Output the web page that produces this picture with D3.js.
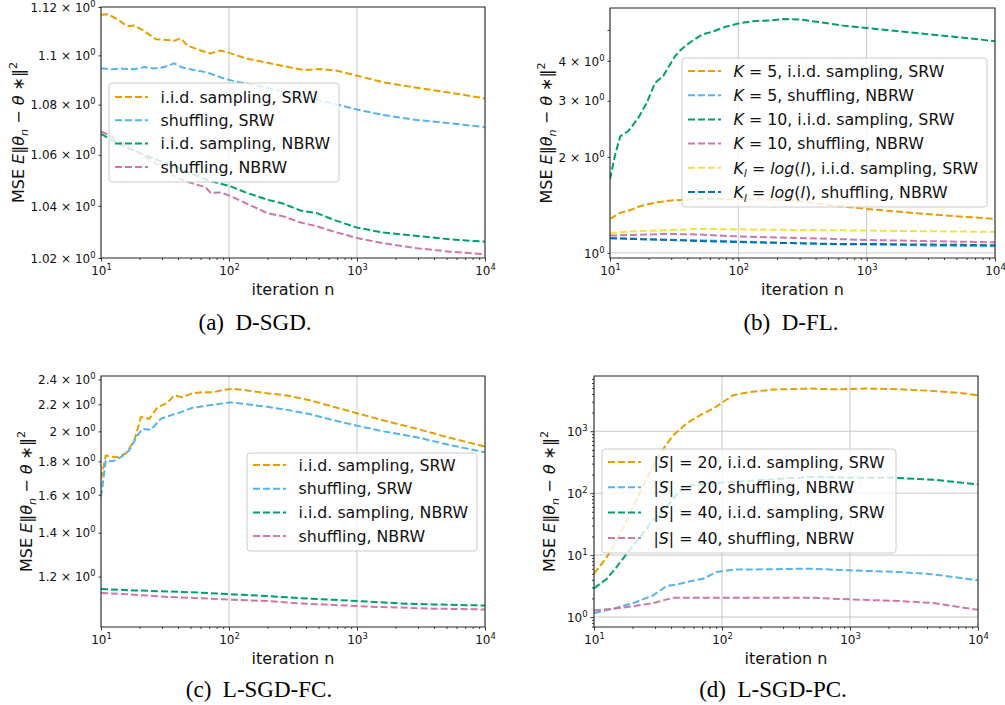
<!DOCTYPE html>
<html><head><meta charset="utf-8">
<script src="https://cdn.jsdelivr.net/npm/d3@7"></script>
<style>body{margin:0;background:#fff} svg text{font-family:"DejaVu Sans",sans-serif;fill:#111}</style>
</head><body><svg id="c" width="1005" height="705"></svg>
<script>
// ---------------- DATA ----------------
const xMajorTicks = [10, 100, 1000, 10000];
const xTickLabels = ["10^1^", "10^2^", "10^3^", "10^4^"];

// Panel (a) D-SGD
const aLabels = ["i.i.d. sampling, SRW", "shuffling, SRW", "i.i.d. sampling, NBRW", "shuffling, NBRW"];
const aN_iidSRW = [10,11.3,13.5,16.1,18.2,21.8,26.8,33,37.3,42,47.3,60,72,86,103,139,199,285,384,518,698,1000,1614,2937,5337,10000];
const aY_iidSRW = [1.1168,1.117,1.1148,1.112,1.1123,1.110,1.1066,1.1063,1.106,1.107,1.104,1.102,1.1008,1.102,1.1008,1.0986,1.097,1.0953,1.094,1.0944,1.0937,1.0917,1.089,1.0868,1.0848,1.0825];
const aN_shufSRW = [10,12,14.3,18.2,21.8,26,31.2,37.3,43.3,53.3,67.8,86,109,148,199,268,362,488,658,1000,1614,2937,5337,10000];
const aY_shufSRW = [1.0947,1.0943,1.0946,1.0943,1.0952,1.0946,1.0952,1.0967,1.095,1.094,1.093,1.091,1.0895,1.0882,1.0868,1.0852,1.0834,1.082,1.0804,1.078,1.0758,1.0738,1.0725,1.071];
const aN_iidNBRW = [10,12,16.1,21.8,29.3,39.5,53.3,72,103,139,199,268,362,488,658,1000,1614,2937,5337,10000];
const aY_iidNBRW = [1.0683,1.066,1.0627,1.06,1.0574,1.055,1.0522,1.0496,1.0476,1.045,1.0424,1.0408,1.0382,1.0372,1.0346,1.0316,1.0297,1.0284,1.0271,1.0262];
const aN_shufNBRW = [10,12,16.1,21.8,29.3,39.5,53.3,65.8,72,86,103,139,199,268,362,488,658,1000,1614,2937,5337,10000];
const aY_shufNBRW = [1.0693,1.0673,1.0634,1.0594,1.0554,1.0508,1.0486,1.0472,1.045,1.0452,1.0438,1.0408,1.0372,1.0359,1.0336,1.0321,1.0301,1.0276,1.0256,1.0237,1.0224,1.0214];
const aYTickValues = [1.02, 1.04, 1.06, 1.08, 1.1, 1.12];
const aYTickLabels = ["1.02 × 10^0^", "1.04 × 10^0^", "1.06 × 10^0^", "1.08 × 10^0^", "1.1 × 10^0^", "1.12 × 10^0^"];

// Panel (b) D-FL
const bLabels = ["_K_ = 5, i.i.d. sampling, SRW", "_K_ = 5, shuffling, NBRW", "_K_ = 10, i.i.d. sampling, SRW",
                 "_K_ = 10, shuffling, NBRW", "_K_~l~ = _log_(_l_), i.i.d. sampling, SRW", "_K_~l~ = _log_(_l_), shuffling, NBRW"];
const bN_K5iid = [10,12,14.3,17.1,23.1,31.2,50.2,91.3,166,302,550,1000,1820,3300,6010,10000];
const bY_K5iid = [1.278,1.335,1.361,1.40,1.442,1.462,1.476,1.476,1.47,1.452,1.407,1.374,1.345,1.319,1.297,1.278];
const bN_flat = [10,15.2,27.7,50.2,91.3,166,302,550,1000,1820,3300,10000];
const bY_K5shuf = [1.114,1.109,1.101,1.096,1.088,1.080,1.072,1.064,1.062,1.059,1.054,1.049];
const bN_K10iid = [10,10.9,12,13.9,16.6,19.3,22.4,26.1,32.1,36.2,42,51.8,63.8,81,100,131,177,224,303,433,658,1000,1820,3300,6010,10000];
const bY_K10iid = [1.70,2.01,2.32,2.41,2.65,2.95,3.41,3.60,4.14,4.36,4.57,4.83,4.95,5.13,5.24,5.33,5.36,5.41,5.39,5.29,5.16,5.07,4.95,4.83,4.72,4.61];
const bY_K10shuf = [1.133,1.139,1.147,1.142,1.128,1.12,1.114,1.106,1.098,1.093,1.088,1.080];
const bY_Kliid = [1.155,1.169,1.178,1.189,1.186,1.183,1.180,1.178,1.175,1.172,1.169,1.164];
const bY_Klshuf = [1.111,1.106,1.098,1.090,1.083,1.077,1.072,1.067,1.067,1.064,1.062,1.057];
const bYTickValues = [1, 2, 3, 4, 5];
const bYTickLabels = ["10^0^", "2 × 10^0^", "3 × 10^0^", "4 × 10^0^", ""];

// Panel (c) L-SGD-FC
const cLabels = ["i.i.d. sampling, SRW", "shuffling, SRW", "i.i.d. sampling, NBRW", "shuffling, NBRW"];
const cN_iidSRW = [10,10.9,12,13.5,15.7,18.2,20.5,23.8,27.7,33,37.3,43.3,51.8,63.8,76.3,91.3,109,139,199,285,433,658,1000,1614,2937,5337,10000];
const cY_iidSRW = [1.692,1.837,1.83,1.826,1.852,1.937,2.103,2.09,2.178,2.21,2.269,2.256,2.287,2.296,2.296,2.315,2.323,2.31,2.287,2.269,2.23,2.18,2.132,2.078,2.018,1.955,1.896];
const cN_shufSRW = [10,10.9,12.3,14.3,16.6,19.3,21.1,24.5,29.3,33,42,51.8,67.8,103,139,199,285,433,658,1000,1614,2937,5337,10000];
const cY_shufSRW = [1.587,1.805,1.80,1.826,1.87,1.972,2.018,2.011,2.09,2.108,2.14,2.173,2.19,2.215,2.20,2.18,2.157,2.124,2.08,2.04,2.0,1.959,1.906,1.858];
const cN_nbrw = [10,18.2,33,60.1,109,199,362,658,1197,2178,3955,10000];
const cY_iidNBRW = [1.149,1.143,1.139,1.134,1.127,1.121,1.112,1.106,1.099,1.092,1.088,1.084];
const cY_shufNBRW = [1.133,1.126,1.117,1.112,1.106,1.101,1.092,1.086,1.08,1.076,1.072,1.069];
const cYTickValues = [1.2, 1.4, 1.6, 1.8, 2, 2.2, 2.4];
const cYTickLabels = ["1.2 × 10^0^", "1.4 × 10^0^", "1.6 × 10^0^", "1.8 × 10^0^", "2 × 10^0^", "2.2 × 10^0^", "2.4 × 10^0^"];

// Panel (d) L-SGD-PC
const dLabels = ["|_S_| = 20, i.i.d. sampling, SRW", "|_S_| = 20, shuffling, NBRW", "|_S_| = 40, i.i.d. sampling, SRW", "|_S_| = 40, shuffling, NBRW"];
const dN_S20iid = [10,12.6,16,20.3,25.8,32.7,41.6,52.8,67.1,85.4,102,122,165,251,485,738,1344,2450,4460,7190,10000];
const dY_S20iid = [5.0,9.3,22,60,172,436,862,1330,1810,2320,2970,3810,4310,4710,4890,4760,4890,4760,4480,4170,3810];
const dN_S20shuf = [10,14.2,20.3,29,36.9,44.2,52.8,71.3,90.8,122,223,485,1000,2450,4460,10000];
const dY_S20shuf = [1.16,1.36,1.68,2.24,3.17,3.33,3.67,4.16,5.33,5.82,5.9,6.04,5.67,5.33,4.89,3.91];
const dN_S40iid = [10,12.6,15,18,22.9,29,36.9,49.8,75.8,122,223,485,1000,2045,4460,10000];
const dY_S40iid = [2.9,4.16,6.4,10.5,19.6,36.5,60,126,143,152,165,183,178,178,165,139];
const dN_S40shuf = [10,14.2,20.3,29,41.6,67.1,122,223,485,1000,2450,4460,10000];
const dY_S40shuf = [1.28,1.36,1.49,1.68,2.05,2.05,2.05,2.05,2.05,1.93,1.81,1.68,1.31];
const dYTickValues = [1, 10, 100, 1000];
const dYTickLabels = ["10^0^", "10^1^", "10^2^", "10^3^"];

const captions = ["(a)  D-SGD.", "(b)  D-FL.", "(c)  L-SGD-FC.", "(d)  L-SGD-PC."];
const yLabelText = "MSE _E_‖_θ_~n~ − _θ_ ∗‖^2^";
const xLabelText = "iteration n";

// ---------------- STYLE / LAYOUT ----------------
const COL = {orange:"#E69F00", sky:"#56B4E9", green:"#009E73", pink:"#CC79A7", yellow:"#F0E442", blue:"#0072B2"};
const svg = d3.select("#c");

function rich(textSel, str, size) {
  const parts = str.split(/(_[^_]+_|~[^~]+~|\^[^\^]+\^)/).filter(s => s.length);
  let shift = 0;
  parts.forEach(p => {
    const t = textSel.append("tspan");
    let target = 0;
    if (p[0] === "_") { t.text(p.slice(1, -1)).attr("font-style", "italic"); }
    else if (p[0] === "~") { t.text(p.slice(1, -1)).attr("font-style", "italic").attr("font-size", size * 0.7); target = size * 0.25; }
    else if (p[0] === "^") { t.text(p.slice(1, -1)).attr("font-size", size * 0.7); target = -size * 0.42; }
    else { t.text(p); }
    if (target !== shift) t.attr("dy", target - shift);
    shift = target;
  });
}

function minorTicksFor(domain) {
  const out = [];
  for (let e = -1; e <= 5; e++) for (let k = 2; k <= 9; k++) {
    const v = k * Math.pow(10, e);
    if (v >= domain[0] && v <= domain[1]) out.push(v);
  }
  return out;
}

function panel(p) {
  const g = svg.append("g");
  const x = d3.scaleLog().domain([10, 1e4]).range([p.x0, p.x1]);
  const y = d3.scaleLog().domain(p.yDomain).range([p.y1, p.y0]);
  const clipId = "clip" + p.id;
  g.append("clipPath").attr("id", clipId).append("rect")
    .attr("x", p.x0).attr("y", p.y0).attr("width", p.x1 - p.x0).attr("height", p.y1 - p.y0);

  // grid
  const grid = g.append("g").attr("stroke", "#b0b0b0").attr("stroke-width", 0.8).attr("opacity", 0.85);
  xMajorTicks.forEach(v => grid.append("line").attr("x1", x(v)).attr("x2", x(v)).attr("y1", p.y0).attr("y2", p.y1));
  p.yGrid.forEach(v => grid.append("line").attr("x1", p.x0).attr("x2", p.x1).attr("y1", y(v)).attr("y2", y(v)));

  // lines
  const line = d3.line().x(d => x(d[0])).y(d => y(d[1]));
  const lg = g.append("g").attr("clip-path", `url(#${clipId})`);
  p.series.forEach(s => {
    lg.append("path").datum(d3.zip(s.n, s.v)).attr("d", line)
      .attr("fill", "none").attr("stroke", s.color).attr("stroke-width", 2).attr("stroke-dasharray", "7,3");
  });

  // x axis
  const xa = g.append("g").attr("transform", `translate(0,${p.y1})`)
    .call(d3.axisBottom(x).tickValues(xMajorTicks).tickSize(3.5).tickSizeOuter(0).tickFormat(() => ""));
  xa.selectAll("text").each(function(d, i) { rich(d3.select(this), xTickLabels[i], 12); })
    .attr("font-size", 12).attr("dy", null).attr("y", 17).attr("font-family", "DejaVu Sans").attr("fill", "#111");
  g.append("g").attr("transform", `translate(0,${p.y1})`)
    .call(d3.axisBottom(x).tickValues(minorTicksFor([10, 1e4]).filter(v => xMajorTicks.indexOf(v) < 0)).tickSize(2).tickSizeOuter(0).tickFormat(() => ""));

  // y axis
  const ya = g.append("g").attr("transform", `translate(${p.x0},0)`)
    .call(d3.axisLeft(y).tickValues(p.yTicks).tickSize(p.yTickLen).tickSizeOuter(0).tickFormat(() => ""));
  ya.selectAll("text").each(function(d, i) { if (p.yLabels[i]) rich(d3.select(this), p.yLabels[i], 12); })
    .attr("font-size", 12).attr("dy", "0.35em").attr("x", -(p.yTickLen + 3)).attr("font-family", "DejaVu Sans").attr("fill", "#111");
  if (p.yMinor) {
    g.append("g").attr("transform", `translate(${p.x0},0)`)
      .call(d3.axisLeft(y).tickValues(p.yMinor).tickSize(2).tickSizeOuter(0).tickFormat(() => ""));
  }
  g.selectAll(".domain").attr("stroke", "none");
  g.selectAll(".tick line").attr("stroke", "#222").attr("stroke-width", 0.9);

  // spines
  g.append("rect").attr("x", p.x0).attr("y", p.y0).attr("width", p.x1 - p.x0).attr("height", p.y1 - p.y0)
    .attr("fill", "none").attr("stroke", "#222").attr("stroke-width", 1);

  // axis labels
  const xl = g.append("text").attr("x", (p.x0 + p.x1) / 2).attr("y", p.xLabelY).attr("text-anchor", "middle").attr("font-size", 16);
  xl.text(xLabelText);
  const yl = g.append("text").attr("transform", `translate(${p.yLabelX},${(p.y0 + p.y1) / 2}) rotate(-90)`)
    .attr("text-anchor", "middle").attr("font-size", 16);
  rich(yl, yLabelText, 16);

  // legend
  const L = p.legend;
  const leg = g.append("g");
  leg.append("rect").attr("x", L.x).attr("y", L.y).attr("width", L.w).attr("height", L.h).attr("rx", 3)
    .attr("fill", "#fff").attr("fill-opacity", 0.8).attr("stroke", "#cccccc").attr("stroke-width", 1);
  p.series.forEach((s, i) => {
    const ry = L.row0 + i * L.step;
    leg.append("line").attr("x1", L.x + 6).attr("x2", L.x + 39).attr("y1", ry).attr("y2", ry)
      .attr("stroke", s.color).attr("stroke-width", 2).attr("stroke-dasharray", "7,3");
    const t = leg.append("text").attr("x", L.x + 51.5).attr("y", ry + 5.7).attr("font-size", 15.8);
    rich(t, p.labels[i], 15.8);
  });

  // caption
  svg.append("text").attr("x", p.capX).attr("y", p.capY).attr("text-anchor", "middle")
    .attr("font-size", 23).attr("xml:space", "preserve")
    .style("font-family", "'Liberation Serif', serif").style("fill", "#000").text(p.caption);
}

panel({
  id: "a", x0: 101, x1: 485, y0: 7, y1: 258, yDomain: [1.02, 1.12],
  yTicks: aYTickValues, yLabels: aYTickLabels, yTickLen: 2.5, yGrid: [],
  series: [
    {n: aN_iidSRW, v: aY_iidSRW, color: COL.orange},
    {n: aN_shufSRW, v: aY_shufSRW, color: COL.sky},
    {n: aN_iidNBRW, v: aY_iidNBRW, color: COL.green},
    {n: aN_shufNBRW, v: aY_shufNBRW, color: COL.pink}],
  labels: aLabels,
  legend: {x: 109, y: 83, w: 230, h: 99, row0: 97, step: 23.3},
  xLabelY: 295, yLabelX: 24, caption: captions[0], capX: 255, capY: 330
});
panel({
  id: "b", x0: 610, x1: 995, y0: 8, y1: 258, yDomain: [0.964, 5.86],
  yTicks: bYTickValues, yLabels: bYTickLabels, yTickLen: 2.5, yGrid: [1],
  series: [
    {n: bN_K5iid, v: bY_K5iid, color: COL.orange},
    {n: bN_flat, v: bY_K5shuf, color: COL.sky},
    {n: bN_K10iid, v: bY_K10iid, color: COL.green},
    {n: bN_flat, v: bY_K10shuf, color: COL.pink},
    {n: bN_flat, v: bY_Kliid, color: COL.yellow},
    {n: bN_flat, v: bY_Klshuf, color: COL.blue}],
  labels: bLabels,
  legend: {x: 682, y: 58, w: 305, h: 149, row0: 71, step: 24.2},
  xLabelY: 295, yLabelX: 552, caption: captions[1], capX: 791, capY: 330
});
panel({
  id: "c", x0: 101, x1: 485, y0: 376, y1: 627, yDomain: [1.005, 2.43],
  yTicks: cYTickValues, yLabels: cYTickLabels, yTickLen: 2.5, yGrid: [],
  series: [
    {n: cN_iidSRW, v: cY_iidSRW, color: COL.orange},
    {n: cN_shufSRW, v: cY_shufSRW, color: COL.sky},
    {n: cN_nbrw, v: cY_iidNBRW, color: COL.green},
    {n: cN_nbrw, v: cY_shufNBRW, color: COL.pink}],
  labels: cLabels,
  legend: {x: 247, y: 453, w: 230, h: 98, row0: 465, step: 23.7},
  xLabelY: 664, yLabelX: 32, caption: captions[2], capX: 259, capY: 697
});
panel({
  id: "d", x0: 594, x1: 978, y0: 376, y1: 627, yDomain: [0.69, 7800],
  yTicks: dYTickValues, yLabels: dYTickLabels, yTickLen: 3.5, yGrid: dYTickValues,
  yMinor: minorTicksFor([0.69, 7800]),
  series: [
    {n: dN_S20iid, v: dY_S20iid, color: COL.orange},
    {n: dN_S20shuf, v: dY_S20shuf, color: COL.sky},
    {n: dN_S40iid, v: dY_S40iid, color: COL.green},
    {n: dN_S40shuf, v: dY_S40shuf, color: COL.pink}],
  labels: dLabels,
  legend: {x: 602, y: 449, w: 294, h: 104, row0: 462, step: 25.3},
  xLabelY: 664, yLabelX: 555, caption: captions[3], capX: 773, capY: 697
});
</script></body></html>
